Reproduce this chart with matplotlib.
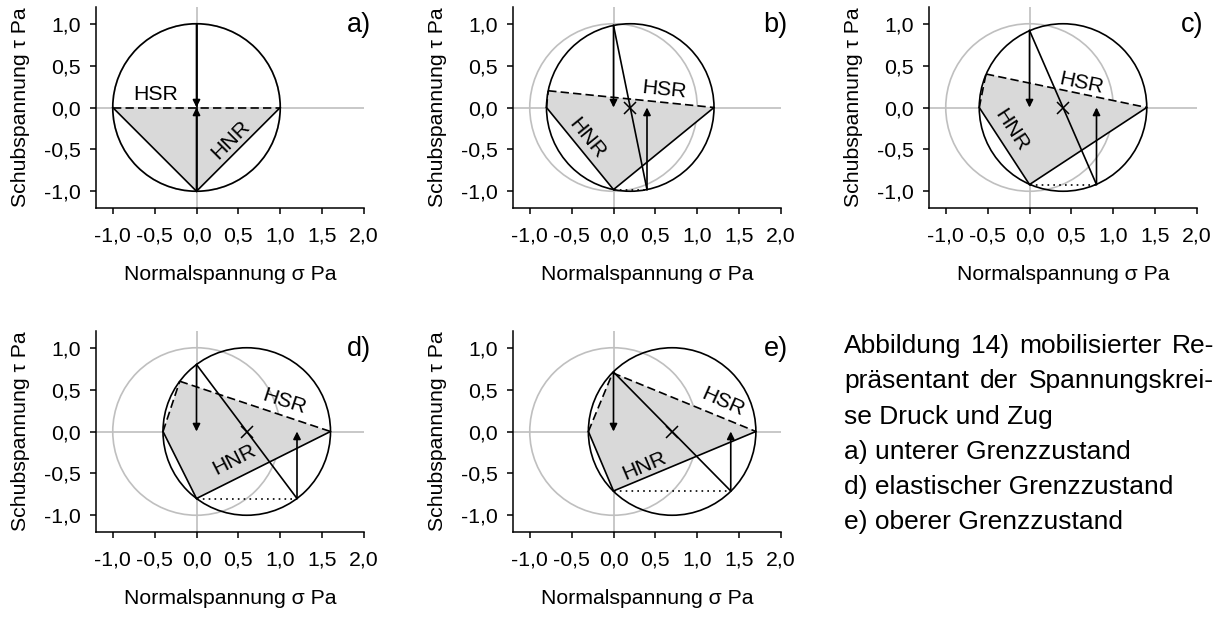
import matplotlib
matplotlib.use("Agg")
import matplotlib.pyplot as plt
from matplotlib.patches import Circle, Polygon

plt.rcParams['font.family'] = ['Liberation Sans', 'DejaVu Sans']

# Mohr stress circles, states a) to e)
panel_labels = ['a)', 'b)', 'c)', 'd)', 'e)']
sigma_centre = [0.0, 0.2, 0.4, 0.6, 0.7]
radius = [1.0, 1.0, 1.0, 1.0, 1.0]
tau_top = [1.0, 0.98, 0.92, 0.80, 0.71]        # circle crossing at sigma = 0
sigma_pole = [0.0, 0.4, 0.8, 1.2, 1.4]         # opposite end of the diameter
sigma_hsr = [-1.0, -0.78, -0.52, -0.20, -0.01]  # upper-left end of HSR
tau_hsr = [0.0, 0.20, 0.40, 0.60, 0.70]

# reference (unit) circle
ref_centre = 0.0
ref_radius = 1.0

x_ticks = [-1.0, -0.5, 0.0, 0.5, 1.0, 1.5, 2.0]
x_ticklabels = ['-1,0', '-0,5', '0,0', '0,5', '1,0', '1,5', '2,0']
y_ticks = [-1.0, -0.5, 0.0, 0.5, 1.0]
y_ticklabels = ['-1,0', '-0,5', '0,0', '0,5', '1,0']

caption_lines = [
    ('Abbildung 14) mobilisierter Re-', True),
    ('präsentant der Spannungskrei-', True),
    ('se Druck und Zug', False),
    ('a) unterer Grenzzustand', False),
    ('d) elastischer Grenzzustand', False),
    ('e) oberer Grenzzustand', False),
]

# label placement
hsr_pos = [(-0.49, 0.16), (0.60, 0.21), (0.62, 0.29), (1.05, 0.35), (1.31, 0.35)]
hsr_rot = [0, -6, -12, -18, -24]
hnr_pos = [(0.41, -0.38), (-0.32, -0.37), (-0.22, -0.27), (0.45, -0.33), (0.37, -0.41)]
hnr_rot = [45, -51, -57, 27, 23]

W, H = 1221, 619
fig = plt.figure(figsize=(W / 100, H / 100), dpi=100)

col_left = [96, 513, 929, 96, 513]
row_top = [7, 7, 7, 331, 331]
ax_w, ax_h = 268, 201

GREY = '#bfbfbf'
LW = 1.2
FS = 15.3


def draw_panel(ax, i):
    c = sigma_centre[i]
    r = radius[i]
    left = (c - r, 0.0)
    right = (c + r, 0.0)
    top = (0.0, tau_top[i])
    bottom = (0.0, -tau_top[i])
    pole = (sigma_pole[i], -tau_top[i])
    hsr = (sigma_hsr[i], tau_hsr[i])

    ax.axhline(0, color=GREY, lw=1.2, zorder=1)
    ax.axvline(0, color=GREY, lw=1.2, zorder=1)
    ax.add_patch(Circle((ref_centre, 0), ref_radius, fill=False, ec=GREY, lw=1.2, zorder=1))

    ax.add_patch(Polygon([hsr, right, bottom, left], closed=True, fc='#d9d9d9',
                         ec='none', zorder=2))
    ax.add_patch(Circle((c, 0), r, fill=False, ec='black', lw=LW, zorder=4))

    ax.plot([left[0], bottom[0]], [left[1], bottom[1]], color='black', lw=LW, zorder=3)
    ax.plot([bottom[0], right[0]], [bottom[1], right[1]], color='black', lw=LW, zorder=3)
    ax.plot([top[0], pole[0]], [top[1], pole[1]], color='black', lw=LW, zorder=3)
    ax.plot([hsr[0], right[0]], [hsr[1], right[1]], color='black', lw=LW,
            ls=(0, (5, 2.5)), zorder=3)
    ax.plot([left[0], hsr[0]], [left[1], hsr[1]], color='black', lw=LW,
            ls=(0, (5, 2.5)), zorder=3)
    ax.plot([bottom[0], pole[0]], [bottom[1], pole[1]], color='black', lw=LW,
            ls=(0, (1, 2.5)), zorder=3)

    arrow = dict(arrowstyle='-|>', mutation_scale=11, color='black', lw=LW,
                 shrinkA=0, shrinkB=0)
    ax.annotate('', xy=(top[0], 0.0), xytext=top, arrowprops=arrow, zorder=5)
    ax.annotate('', xy=(pole[0], 0.0), xytext=pole, arrowprops=arrow, zorder=5)

    if c != 0:
        ax.plot([c], [0], marker='x', ms=9, mew=1.1, color='black', zorder=5)

    ax.text(*hsr_pos[i], 'HSR', fontsize=FS, rotation=hsr_rot[i],
            rotation_mode='anchor', ha='center', va='center', zorder=6)
    ax.text(*hnr_pos[i], 'HNR', fontsize=FS, rotation=hnr_rot[i],
            rotation_mode='anchor', ha='center', va='center', zorder=6)
    ax.text(2.08, 0.99, panel_labels[i], fontsize=19.5, ha='right', va='center',
            clip_on=False)

    ax.set_xlim(-1.2, 2.0)
    ax.set_ylim(-1.2, 1.2)
    ax.set_aspect('equal')
    ax.spines['top'].set_visible(False)
    ax.spines['right'].set_visible(False)
    for s in ('left', 'bottom'):
        ax.spines[s].set_linewidth(1.1)
    ax.set_xticks(x_ticks)
    ax.set_xticklabels(x_ticklabels)
    ax.set_yticks(y_ticks)
    ax.set_yticklabels(y_ticklabels)
    ax.tick_params(direction='out', length=4.5, width=1.1, labelsize=FS)
    ax.tick_params(axis='x', pad=8.5)
    ax.tick_params(axis='y', pad=6.5)
    ax.set_xlabel('Normalspannung σ Pa', fontsize=FS, labelpad=14)
    ax.set_ylabel('Schubspannung τ Pa', fontsize=FS, labelpad=10)


for i in range(len(panel_labels)):
    x0 = col_left[i] / W
    y0 = (H - row_top[i] - ax_h) / H
    ax = fig.add_axes([x0, y0, ax_w / W, ax_h / H])
    draw_panel(ax, i)

# caption, first two lines set justified
renderer = fig.canvas.get_renderer()
cap_x0, cap_x1 = 844, 1214
base_y0, line_step = 353, 35.3
for k, (line, justified) in enumerate(caption_lines):
    y = (H - (base_y0 + k * line_step)) / H
    if not justified:
        fig.text(cap_x0 / W, y, line, fontsize=19, va='baseline', ha='left')
        continue
    words = line.split(' ')
    texts = [fig.text(0, y, w, fontsize=19, va='baseline', ha='left') for w in words]
    widths = [t.get_window_extent(renderer).width for t in texts]
    gap = (cap_x1 - cap_x0 - sum(widths)) / (len(words) - 1)
    x = cap_x0
    for t, w in zip(texts, widths):
        t.set_x(x / W)
        x += w + gap

fig.savefig('out.png', dpi=100)
